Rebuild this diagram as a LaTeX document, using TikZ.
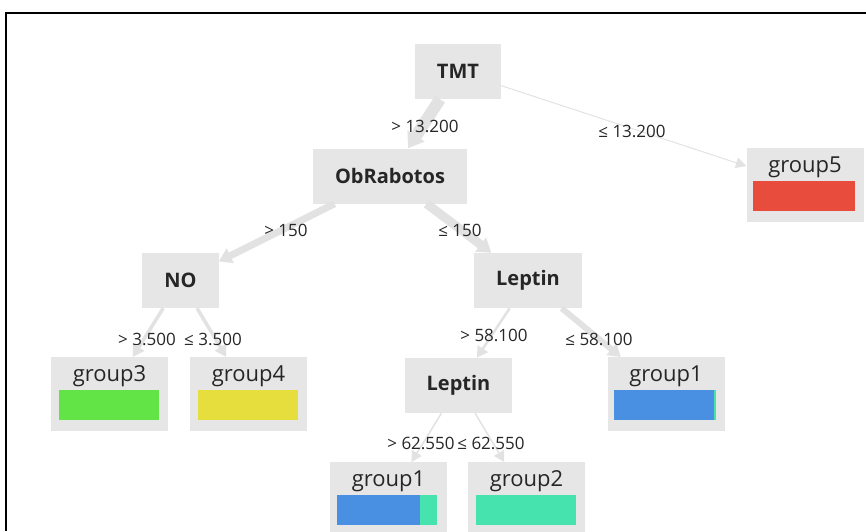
\documentclass[tikz,border=0pt]{standalone}
\usepackage{fontspec}
\setmainfont{Open Sans}
\usetikzlibrary{arrows.meta}
\definecolor{boxgrey}{RGB}{230,230,230}
\definecolor{edgegrey}{RGB}{226,226,226}
\definecolor{inkdark}{RGB}{38,38,38}
\definecolor{barred}{RGB}{231,76,60}
\definecolor{bargreen}{RGB}{98,227,70}
\definecolor{baryellow}{RGB}{230,222,61}
\definecolor{barblue}{RGB}{74,144,226}
\definecolor{barteal}{RGB}{70,227,174}
\tikzset{
	featbox/.style={fill=boxgrey, text=inkdark, minimum height=55pt, inner xsep=22pt, font=\fontsize{20}{24}\selectfont\bfseries},
	groupbox/.style={fill=boxgrey, text=inkdark, anchor=north, minimum width=117pt, inner xsep=0pt, inner ysep=4.5pt, text height=19.5pt, text depth=45.5pt, font=\fontsize{22}{26}\selectfont},
	cutlab/.style={text=inkdark, inner sep=0pt, font=\fontsize{17}{20}\selectfont},
	branch/.style={draw=edgegrey, line width=#1, -{Triangle[length=10pt 0.4, width=10pt 0.8]}},
}

\begin{document}
\begin{tikzpicture}[x=1pt, y=-1pt]
		%%%%% START %%%%%
		\useasboundingbox (0, 0) rectangle (866, 531);
		
		\draw[line width=2pt] (5.5, 531) -- (5.5, 12.5) -- (866, 12.5);
		
		% split nodes
		\node[featbox] (tmt) at (458, 71.5) {TMT};
		\node[featbox] (obr) at (390, 176) {ObRabotos};
		\node[featbox] (no) at (180.5, 280.5) {NO};
		\node[featbox] (lep) at (528, 280.5) {Leptin};
		\node[featbox] (lepb) at (458.5, 385.5) {Leptin};
		
		% leaves
		\node[groupbox] (g5) at (805, 148) {group5};
		\node[groupbox] (g3) at (109.5, 357) {group3};
		\node[groupbox] (g4) at (248.5, 357) {group4};
		\node[groupbox] (g1a) at (666, 357) {group1};
		\node[groupbox] (g1b) at (388.5, 462) {group1};
		\node[groupbox] (g2) at (526.5, 462) {group2};
		
		\fill[barred] ([xshift=7pt, yshift=11pt]g5.south west) rectangle ([xshift=-9pt, yshift=41pt]g5.south east);
		\fill[bargreen] ([xshift=8pt, yshift=11pt]g3.south west) rectangle ([xshift=-9pt, yshift=41pt]g3.south east);
		\fill[baryellow] ([xshift=8pt, yshift=11pt]g4.south west) rectangle ([xshift=-9pt, yshift=41pt]g4.south east);
		\fill[barblue] ([xshift=7pt, yshift=11pt]g1a.south west) rectangle ([xshift=-11pt, yshift=41pt]g1a.south east);
		\fill[barteal] ([xshift=-11pt, yshift=11pt]g1a.south east) rectangle ([xshift=-9pt, yshift=41pt]g1a.south east);
		\fill[barblue] ([xshift=7pt, yshift=11pt]g1b.south west) rectangle ([xshift=-27pt, yshift=41pt]g1b.south east);
		\fill[barteal] ([xshift=-27pt, yshift=11pt]g1b.south east) rectangle ([xshift=-10pt, yshift=41pt]g1b.south east);
		\fill[barteal] ([xshift=8pt, yshift=11pt]g2.south west) rectangle ([xshift=-9pt, yshift=41pt]g2.south east);
		
		% branches
		\draw[branch=12pt] (tmt) -- (obr);
		\draw[branch=1pt] (tmt) -- (g5);
		\draw[branch=7pt] (obr) -- (no);
		\draw[branch=9pt] (obr) -- (lep);
		\draw[branch=3.5pt] (no) -- (g3);
		\draw[branch=3.5pt] (no) -- (g4);
		\draw[branch=2.5pt] (lep) -- (lepb);
		\draw[branch=6pt] (lep) -- (g1a);
		\draw[branch=1.5pt] (lepb) -- (g1b);
		\draw[branch=1.5pt] (lepb) -- (g2);
		
		% thresholds
		\node[cutlab] (c1) at (425, 126) {> 13.200};
		\node[cutlab] (c2) at (632, 131) {≤ 13.200};
		\node[cutlab] (c3) at (286, 230) {> 150};
		\node[cutlab] (c4) at (460, 230) {≤ 150};
		\node[cutlab] (c5) at (147, 339) {> 3.500};
		\node[cutlab] (c6) at (213, 339) {≤ 3.500};
		\node[cutlab] (c7) at (494, 335) {> 58.100};
		\node[cutlab] (c8) at (599, 339) {≤ 58.100};
		\node[cutlab] (c9) at (421, 443) {> 62.550};
		\node[cutlab] (c10) at (491, 443) {≤ 62.550};
		
		%%%%% END %%%%%
	\end{tikzpicture}
\end{document}
